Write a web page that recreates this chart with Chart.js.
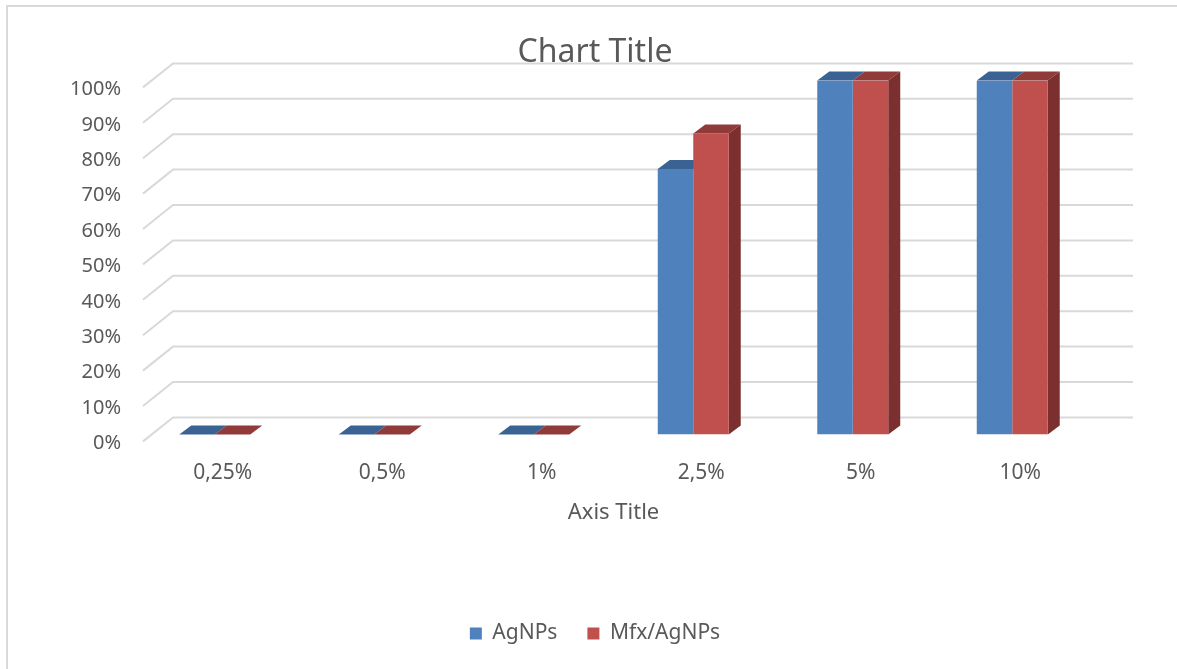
<!DOCTYPE html>
<html>
<head>
<meta charset="utf-8">
<script src="https://cdn.jsdelivr.net/npm/chart.js@4/dist/chart.umd.min.js"></script>
<style>
  body { margin: 0; background: #fff; }
  #wrap { position: relative; width: 1177px; height: 669px; }
  #frame { position: absolute; left: 6px; top: 5px; right: 0; bottom: 0;
           border-left: 2px solid #d9d9d9; border-top: 2px solid #d9d9d9; }
  #chart { position: absolute; left: 0; top: 0; }
</style>
</head>
<body>
<div id="wrap">
  <div id="frame"></div>
  <canvas id="chart" width="1177" height="669"></canvas>
</div>
<script>
// Chart data
const categories = ['0,25%', '0,5%', '1%', '2,5%', '5%', '10%'];
const agnps = [0, 0, 0, 75, 100, 100];
const mfxAgnps = [0, 0, 0, 85, 100, 100];
const yMax = 100;
const yStep = 10;

const textColor = '#595959';
Chart.defaults.font.family = "'Noto Sans', sans-serif";
Chart.defaults.color = textColor;

// Fake 3D: back-wall gridlines, bar tops and side faces, drawn before the front faces
const depth = { dx: 12, dy: 9 };
const wall = { dx: 38, dy: 17, fx: 8, fy: 7, extra: 41 };

const threeD = {
    id: 'threeD',
    beforeDatasetsDraw(chart) {
        const ctx = chart.ctx;
        const area = chart.chartArea;
        const y = chart.scales.y;

        // Gridlines on the back wall with short diagonals on the left side
        ctx.save();
        ctx.strokeStyle = '#d9d9d9';
        ctx.lineWidth = 2;
        y.ticks.forEach(t => {
            const py = y.getPixelForValue(t.value);
            ctx.beginPath();
            ctx.moveTo(area.left + wall.fx, py + wall.fy);
            ctx.lineTo(area.left + wall.dx, py - wall.dy);
            ctx.lineTo(area.right + wall.extra, py - wall.dy);
            ctx.stroke();
        });
        ctx.restore();

        const topColors = ['#3a6293', '#903b39'];
        const sideColor = '#7b2f2f';
        const last = chart.data.datasets.length - 1;

        chart.data.datasets.forEach((ds, di) => {
            const meta = chart.getDatasetMeta(di);
            meta.data.forEach(bar => {
                const l = bar.x - bar.width / 2;
                const r = bar.x + bar.width / 2;
                // top face
                ctx.fillStyle = topColors[di];
                ctx.beginPath();
                ctx.moveTo(l, bar.y);
                ctx.lineTo(r, bar.y);
                ctx.lineTo(r + depth.dx, bar.y - depth.dy);
                ctx.lineTo(l + depth.dx, bar.y - depth.dy);
                ctx.closePath();
                ctx.fill();
                // right side face (only visible on the rightmost series)
                if (di === last && bar.base > bar.y) {
                    ctx.fillStyle = sideColor;
                    ctx.beginPath();
                    ctx.moveTo(r, bar.y);
                    ctx.lineTo(r + depth.dx, bar.y - depth.dy);
                    ctx.lineTo(r + depth.dx, bar.base - depth.dy);
                    ctx.lineTo(r, bar.base);
                    ctx.closePath();
                    ctx.fill();
                }
            });
        });
    }
};

new Chart(document.getElementById('chart'), {
    type: 'bar',
    data: {
        labels: categories,
        datasets: [
            {
                label: 'AgNPs',
                data: agnps,
                backgroundColor: '#4f81bd',
                borderWidth: 0
            },
            {
                label: 'Mfx/AgNPs',
                data: mfxAgnps,
                backgroundColor: '#c0504d',
                borderWidth: 0
            }
        ]
    },
    options: {
        responsive: false,
        animation: false,
        layout: { padding: { left: 98, right: 85, top: 0, bottom: 15 } },
        datasets: {
            bar: { barPercentage: 1, categoryPercentage: 0.445 }
        },
        scales: {
            x: {
                grid: { display: false, drawTicks: false },
                border: { display: false },
                ticks: { font: { size: 21 }, padding: 26, labelOffset: 8 },
                title: {
                    display: true,
                    text: 'Axis Title',
                    font: { size: 22 },
                    padding: { top: -12, bottom: 67 }
                }
            },
            y: {
                min: 0,
                max: yMax,
                grid: { display: false, drawTicks: false },
                border: { display: false },
                afterFit(scale) {
                    // narrow axis box so the title centres like the original; let labels spill left
                    scale.width = 37;
                    scale._computeLabelArea = () => undefined;
                },
                ticks: {
                    stepSize: yStep,
                    font: { size: 20 },
                    padding: 14,
                    labelOffset: 9,
                    callback: v => v + '%'
                }
            }
        },
        plugins: {
            title: {
                display: true,
                text: 'Chart Title',
                font: { size: 32, weight: 'normal' },
                color: textColor,
                padding: { top: 34, bottom: 8 }
            },
            legend: {
                position: 'bottom',
                labels: { font: { size: 21 }, boxWidth: 12, boxHeight: 12, padding: 30 }
            },
            tooltip: { enabled: false }
        }
    },
    plugins: [threeD]
});
</script>
</body>
</html>
